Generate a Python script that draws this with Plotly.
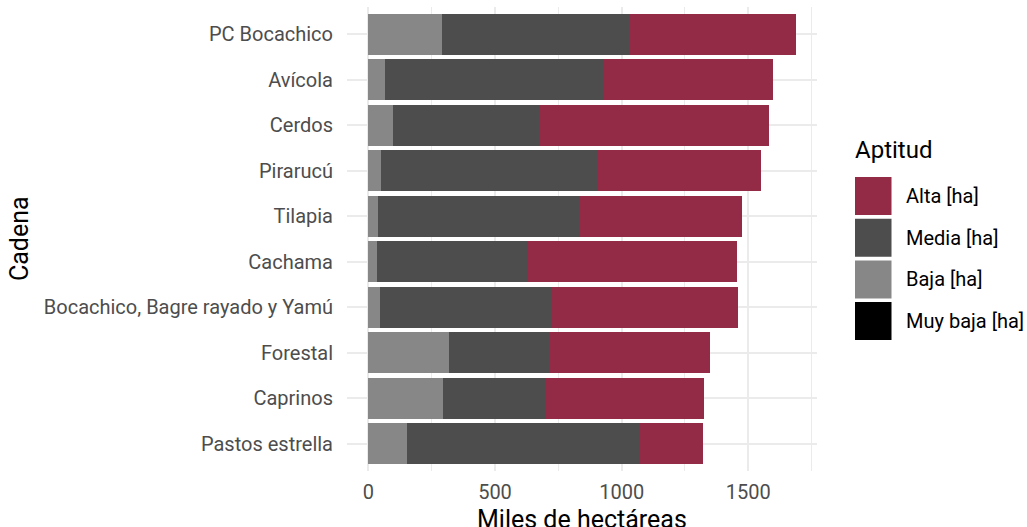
import plotly.graph_objects as go

categories = ["PC Bocachico", "Avícola", "Cerdos", "Pirarucú", "Tilapia", "Cachama",
              "Bocachico, Bagre rayado y Yamú", "Forestal", "Caprinos", "Pastos estrella"]
alta = [655, 673, 907, 646, 642, 823, 738, 633, 630, 251]
media = [740, 860, 577, 855, 793, 595, 675, 396, 400, 920]
baja = [292, 66, 98, 49, 40, 36, 45, 318, 296, 151]
muy_baja = [0, 0, 0, 0, 0, 0, 0, 0, 0, 0]

series_names = ["Alta [ha]", "Media [ha]", "Baja [ha]", "Muy baja [ha]"]
series_values = [alta, media, baja, muy_baja]
colors = ["#932A46", "#4D4D4D", "#878787", "#000000"]
x_ticks = [0, 500, 1000, 1500]

FONT = "Roboto"
W, H = 1027, 527
# plot area in page pixels
L, R, T, B = 347, 817, 7, 471

fig = go.Figure()
# stack from left: Muy baja, Baja, Media, Alta
for name, vals, col in reversed(list(zip(series_names, series_values, colors))):
    fig.add_trace(go.Bar(
        y=categories, x=vals, orientation="h", name=name,
        marker=dict(color=col, line=dict(width=0)), showlegend=False,
    ))

totals = [sum(v) for v in zip(*series_values)]
mx = max(totals)

fig.update_layout(
    width=W, height=H,
    margin=dict(l=L, r=W - R, t=T, b=H - B, pad=0),
    barmode="stack", bargap=0.1,
    plot_bgcolor="white", paper_bgcolor="white",
    font=dict(family=FONT, color="#4D4D4D"),
    xaxis=dict(
        range=[-0.05 * mx, 1.05 * mx],
        tickvals=x_ticks, ticktext=[str(v) for v in x_ticks],
        tickfont=dict(size=20, color="#4D4D4D", family=FONT),
        showgrid=True, gridcolor="#EBEBEB", gridwidth=2,
        minor=dict(dtick=250, tick0=0, showgrid=True, gridcolor="#EBEBEB", gridwidth=1),
        zeroline=False, showline=False,
        ticks="outside", ticklen=3, tickcolor="rgba(0,0,0,0)",
    ),
    yaxis=dict(
        categoryorder="array", categoryarray=categories[::-1],
        range=[-0.6, len(categories) - 0.4],
        tickfont=dict(size=20, color="#4D4D4D", family=FONT),
        showgrid=True, gridcolor="#EBEBEB", gridwidth=2,
        zeroline=False, showline=False,
        ticks="outside", ticklen=9, tickcolor="rgba(0,0,0,0)",
    ),
)

pw, ph = R - L, B - T
def px_x(p):
    return (p - L) / pw
def px_y(p):
    return (B - p) / ph

# axis titles
fig.add_annotation(text="Miles de hectáreas", xref="paper", yref="paper",
                   x=0.5, y=px_y(503), xanchor="center", yanchor="top",
                   showarrow=False, font=dict(size=25, color="black", family=FONT))
fig.add_annotation(text="Cadena", xref="paper", yref="paper",
                   x=px_x(19), y=px_y(239), xanchor="center", yanchor="middle",
                   textangle=-90, showarrow=False,
                   font=dict(size=25, color="black", family=FONT))

# legend (drawn manually to match large keys)
fig.add_annotation(text="Aptitud", xref="paper", yref="paper",
                   x=px_x(853), y=px_y(150), xanchor="left", yanchor="middle",
                   showarrow=False, font=dict(size=24, color="black", family=FONT))
key_top = 177
key_h = 38
key_step = 41.7
for i, (name, col) in enumerate(zip(series_names, colors)):
    y0 = key_top + i * key_step
    fig.add_shape(type="rect", xref="paper", yref="paper",
                  x0=px_x(855), x1=px_x(891.5), y0=px_y(y0), y1=px_y(y0 + key_h),
                  fillcolor=col, line=dict(width=0), layer="above")
    fig.add_annotation(text=name, xref="paper", yref="paper",
                       x=px_x(904), y=px_y(y0 + key_h / 2), xanchor="left", yanchor="middle",
                       showarrow=False, font=dict(size=20, color="black", family=FONT))

fig.write_html(
    "out.html",
    config={"displayModeBar": False},
    post_script="document.body.style.margin='0';document.body.style.overflow='hidden';",
)
